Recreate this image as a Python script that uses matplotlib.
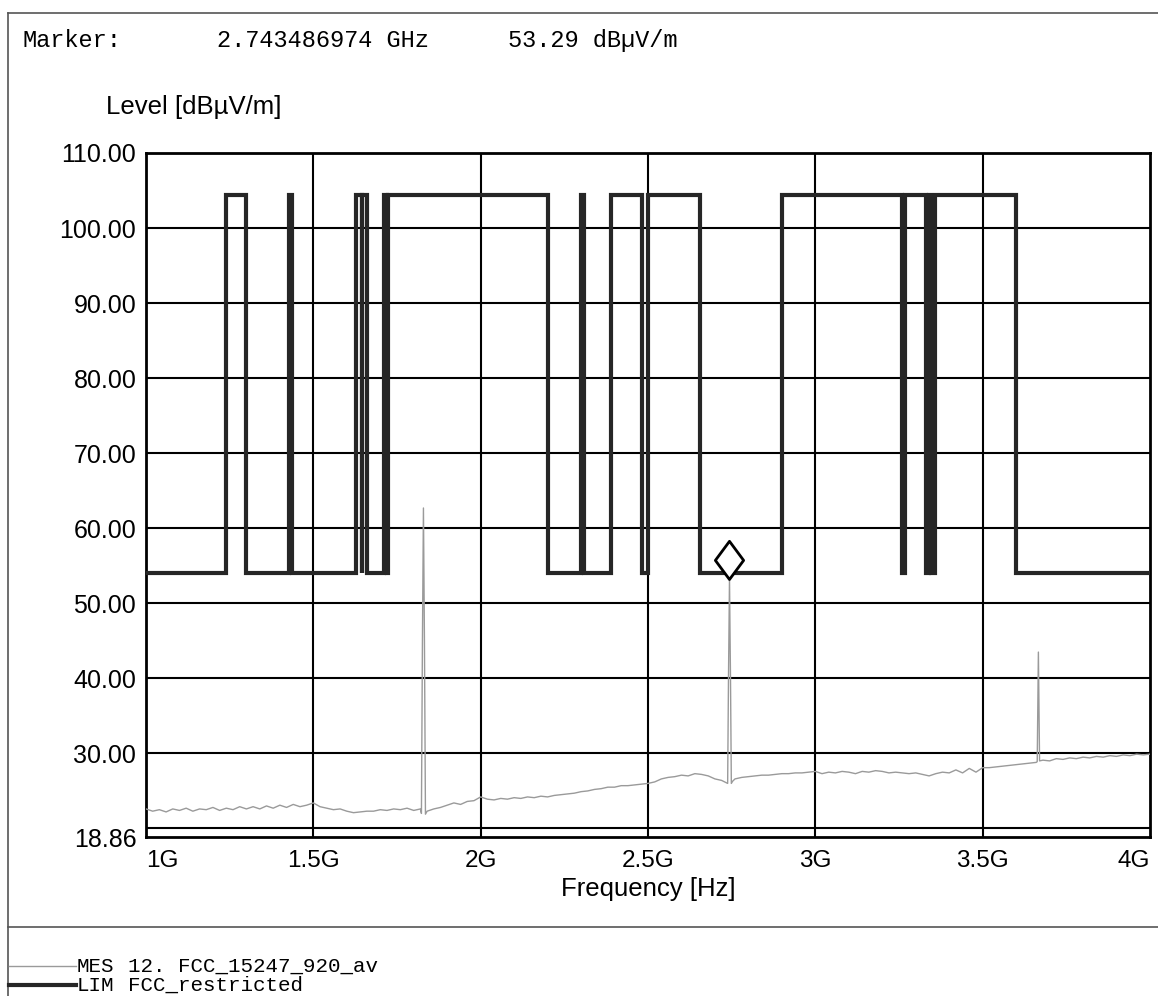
import matplotlib
matplotlib.use("Agg")
import matplotlib.pyplot as plt
from matplotlib.lines import Line2D
from matplotlib.path import Path

# measured trace MES (GHz, dBuV/m)
mes_freq = [1.00, 1.02, 1.04, 1.06, 1.08, 1.10, 1.12, 1.14, 1.16, 1.18,
            1.20, 1.22, 1.24, 1.26, 1.28, 1.30, 1.32, 1.34, 1.36, 1.38,
            1.40, 1.42, 1.44, 1.46, 1.48, 1.50, 1.52, 1.54, 1.56, 1.58,
            1.60, 1.62, 1.64, 1.66, 1.68, 1.70, 1.72, 1.74, 1.76, 1.78,
            1.80, 1.82, 1.823, 1.826, 1.829, 1.832, 1.835, 1.84, 1.86, 1.88,
            1.90, 1.92, 1.94, 1.96, 1.98, 2.00, 2.02, 2.04, 2.06, 2.08,
            2.10, 2.12, 2.14, 2.16, 2.18, 2.20, 2.22, 2.24, 2.26, 2.28,
            2.30, 2.32, 2.34, 2.36, 2.38, 2.40, 2.42, 2.44, 2.46, 2.48,
            2.50, 2.52, 2.54, 2.56, 2.58, 2.60, 2.62, 2.64, 2.66, 2.68,
            2.70, 2.72, 2.733, 2.738, 2.7405, 2.7435, 2.7465, 2.749, 2.753, 2.76,
            2.78, 2.80, 2.82, 2.84, 2.86, 2.88, 2.90, 2.92, 2.94, 2.96,
            2.98, 3.00, 3.02, 3.04, 3.06, 3.08, 3.10, 3.12, 3.14, 3.16,
            3.18, 3.20, 3.22, 3.24, 3.26, 3.28, 3.30, 3.32, 3.34, 3.36,
            3.38, 3.40, 3.42, 3.44, 3.46, 3.48, 3.50, 3.52, 3.54, 3.56,
            3.58, 3.60, 3.62, 3.64, 3.66, 3.663, 3.6665, 3.670, 3.68, 3.70,
            3.72, 3.74, 3.76, 3.78, 3.80, 3.82, 3.84, 3.86, 3.88, 3.90,
            3.92, 3.94, 3.96, 3.98, 4.00]
mes_level = [22.6, 22.3, 22.5, 22.2, 22.6, 22.4, 22.7, 22.3, 22.6, 22.5,
             22.8, 22.4, 22.7, 22.5, 22.9, 22.6, 22.9, 22.6, 23.0, 22.7,
             23.1, 22.8, 23.2, 22.9, 23.1, 23.4, 22.9, 22.7, 22.5, 22.6,
             22.3, 22.1, 22.2, 22.3, 22.3, 22.5, 22.4, 22.6, 22.5, 22.7,
             22.4, 22.6, 22.0, 45.0, 62.7, 45.0, 21.9, 22.3, 22.6, 22.8,
             23.1, 23.4, 23.2, 23.6, 23.7, 24.2, 23.9, 23.8, 24.0, 23.9,
             24.1, 24.0, 24.2, 24.1, 24.3, 24.2, 24.4, 24.5, 24.6, 24.7,
             24.9, 25.0, 25.2, 25.3, 25.5, 25.5, 25.7, 25.7, 25.8, 25.9,
             26.0, 26.2, 26.6, 26.8, 26.9, 27.1, 27.0, 27.3, 27.2, 27.0,
             26.6, 26.4, 26.1, 26.0, 40.0, 53.29, 40.0, 26.0, 26.3, 26.6,
             26.8, 26.9, 27.0, 27.1, 27.1, 27.2, 27.3, 27.3, 27.4, 27.4,
             27.5, 27.6, 27.3, 27.5, 27.4, 27.6, 27.5, 27.3, 27.6, 27.5,
             27.7, 27.6, 27.4, 27.5, 27.4, 27.3, 27.4, 27.2, 27.0, 27.3,
             27.5, 27.4, 27.8, 27.4, 28.0, 27.5, 28.1, 28.1, 28.2, 28.3,
             28.4, 28.5, 28.6, 28.7, 28.8, 28.9, 43.5, 29.0, 29.1, 29.0,
             29.3, 29.2, 29.4, 29.3, 29.5, 29.4, 29.6, 29.5, 29.7, 29.6,
             29.8, 29.7, 29.9, 29.8, 29.9]

# limit line LIM: band edges (MHz) and the level inside each band
lim_edges_mhz = [1000, 1240, 1300, 1427, 1435, 1626.5, 1645.5, 1646.5, 1660, 1710,
                 1718.8, 1722.2, 2200, 2300, 2310, 2390, 2483.5, 2500, 2655, 2900,
                 3260, 3267, 3332, 3339, 3345.8, 3358, 3600, 4000]
lim_levels = [54.0, 104.4, 54.0, 104.4, 54.0, 104.4, 54.0, 104.4, 54.0, 104.4,
              54.0, 104.4, 54.0, 104.4, 54.0, 104.4, 54.0, 104.4, 54.0, 104.4,
              54.0, 104.4, 54.0, 104.4, 54.0, 104.4, 54.0]

marker_freq = 2.743486974
marker_level = 53.29

x_ticks = [1.0, 1.5, 2.0, 2.5, 3.0, 3.5, 4.0]
x_labels = ["1G", "1.5G", "2G", "2.5G", "3G", "3.5G", "4G"]
y_ticks = [18.86, 30, 40, 50, 60, 70, 80, 90, 100, 110]
y_grid = [20, 30, 40, 50, 60, 70, 80, 90, 100, 110]

W, H = 1158, 996
sans = "Liberation Sans"
mono = "Liberation Mono"

fig = plt.figure(figsize=(W / 100, H / 100), dpi=100)
ax = fig.add_axes([146 / W, 1 - 837 / H, 1004 / W, 684 / H])

ax.plot(mes_freq, mes_level, color="#9a9a9a", lw=1.0, zorder=3)
lim_edges = [e / 1000 for e in lim_edges_mhz]
step = ax.stairs(lim_levels, lim_edges, baseline=None, color="#262626", lw=3.0, zorder=4)
step.set_joinstyle("miter")

# diamond marker with its bottom tip on the marker point
diamond = Path([(0, 0), (0.37, 0.5), (0, 1), (-0.37, 0.5), (0, 0)], closed=True)
ax.plot([marker_freq], [marker_level], marker=diamond, markersize=55,
        markerfacecolor="white", markeredgecolor="black", markeredgewidth=2.0,
        linestyle="none", zorder=5)

ax.set_xlim(1.0, 4.0)
ax.set_ylim(18.86, 110)

ax.set_xticks(x_ticks)
ax.set_xticklabels(x_labels, fontsize=17.5, family=sans)
ax.set_yticks(y_ticks)
ax.set_yticklabels([f"{v:.2f}" for v in y_ticks], fontsize=18, family=sans)
ax.tick_params(length=0)
ax.tick_params(axis="x", pad=9)
ax.tick_params(axis="y", pad=7)
labels = ax.get_xticklabels()
labels[0].set_horizontalalignment("left")
labels[-1].set_horizontalalignment("right")

ax.set_axisbelow(True)
for v in y_grid:
    ax.axhline(v, color="black", lw=1.5, zorder=1)
for v in x_ticks[1:-1]:
    ax.axvline(v, color="black", lw=1.5, zorder=1)
for s in ax.spines.values():
    s.set_linewidth(2.0)

fig.text(106 / W, 1 - 107 / H, "Level [dBµV/m]", fontsize=18.5, family=sans,
         ha="left", va="center")
fig.text(648 / W, 1 - 889 / H, "Frequency [Hz]", fontsize=18.5, family=sans,
         ha="center", va="center")

# header line with the marker readout
fig.text(23 / W, 1 - 40 / H, "Marker:", fontsize=17, family=mono, va="center")
fig.text(217 / W, 1 - 40 / H, f"{marker_freq:.9f} GHz", fontsize=17, family=mono, va="center")
fig.text(508 / W, 1 - 40 / H, f"{marker_level:.2f} dBµV/m", fontsize=17, family=mono, va="center")

# page frame
frame = dict(color="#555555", lw=1.2, transform=fig.transFigure)
fig.add_artist(Line2D([8 / W, 1], [1 - 13 / H, 1 - 13 / H], **frame))
fig.add_artist(Line2D([8 / W, 8 / W], [1 - 13 / H, 0], **frame))
fig.add_artist(Line2D([8 / W, 1], [1 - 927 / H, 1 - 927 / H], **frame))

# legend rows
fig.add_artist(Line2D([9 / W, 76 / W], [1 - 966 / H] * 2, color="#9a9a9a", lw=1.0,
                      transform=fig.transFigure))
fig.add_artist(Line2D([9 / W, 76 / W], [1 - 985 / H] * 2, color="#262626", lw=3.0,
                      transform=fig.transFigure))
fig.text(77 / W, 1 - 966 / H, "MES", fontsize=15, family=mono, va="center")
fig.text(128 / W, 1 - 966 / H, "12. FCC_15247_920_av", fontsize=15, family=mono, va="center")
fig.text(77 / W, 1 - 985 / H, "LIM", fontsize=15, family=mono, va="center")
fig.text(128 / W, 1 - 985 / H, "FCC_restricted", fontsize=15, family=mono, va="center")

fig.savefig("out.png", dpi=100)
